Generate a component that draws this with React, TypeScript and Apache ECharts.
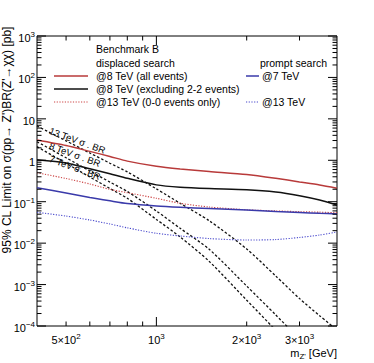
import React, { useEffect, useRef } from "react";
import * as echarts from "echarts";

const massGeV = [400, 500, 600, 700, 800, 1000, 1200, 1500, 2000, 2500, 3000, 3500, 4000];
const displaced8TeVAll = [3.09, 2.27, 1.64, 1.24, 0.955, 0.716, 0.617, 0.537, 0.454, 0.367, 0.3, 0.253, 0.211];
const displaced8TeVExcl22 = [1.03, 0.86, 0.627, 0.474, 0.367, 0.255, 0.224, 0.208, 0.195, 0.172, 0.14, 0.11, 0.083];
const displaced13TeV00 = [0.501, 0.363, 0.268, 0.198, 0.165, 0.121, 0.0916, 0.0746, 0.0638, 0.06, 0.0575, 0.056, 0.0543];
const prompt7TeV = [0.218, 0.162, 0.126, 0.105, 0.0906, 0.0788, 0.0733, 0.0686, 0.063, 0.058, 0.055, 0.0525, 0.0506];
const prompt13TeV = [0.0556, 0.045, 0.0362, 0.029, 0.0234, 0.0173, 0.0149, 0.0129, 0.0119, 0.0122, 0.0137, 0.0157, 0.0186];
const xsecBR13TeV = [6.73, 2.95, 1.5, 0.85, 0.525, 0.204, 0.0916, 0.0348, 0.00723, 0.00161, 0.00046, 0.000177, 0.00008];
const xsecBR8TeV = [2.81, 1.15, 0.552, 0.298, 0.177, 0.0597, 0.0228, 0.0071, 0.00092, 0.000185, 0.000048, null, null];
const xsecBR7TeV = [2.13, 0.845, 0.395, 0.208, 0.121, 0.0374, 0.0141, 0.00363, 0.00042, 0.000079, null, null, null];

const X_MIN = 400;
const X_MAX = 4000;
const Y_MIN_EXP = -4;
const Y_MAX_EXP = 3;

const xMinorTicks = [500, 600, 700, 800, 900, 2000, 3000];
const xMajorTicks = [1000];
const xLabelValues = [500, 1000, 2000, 3000];
const xLabelMantissas = ["5×", "", "2×", "3×"];
const xLabelExponents = ["2", "3", "3", "3"];
const yDecadeExponents = [-4, -3, -2, -1, 0, 1, 2, 3];
const yMinorMultipliers = [2, 3, 4, 5, 6, 7, 8, 9];

const FONT = '"Liberation Sans", Arial, Helvetica, sans-serif';
const RED = "#b83a3a";
const BLACK = "#111111";
const BLUE = "#3a3aaa";
const RED_DOT = "#cc4444";
const BLUE_DOT = "#4848cc";

function pairs(values: (number | null)[]) {
  const out: [number, number][] = [];
  values.forEach((v, i) => {
    if (v != null) out.push([massGeV[i], v]);
  });
  return out;
}

const supRich = {
  b: { fontSize: 11, fontFamily: FONT, color: "#000" },
  s: { fontSize: 8, fontFamily: FONT, color: "#000", padding: [0, 0, 7, 0] },
};

export default function App() {
  const ref = useRef<HTMLDivElement>(null);
  useEffect(() => {
    const chart = echarts.init(ref.current!, null, { renderer: "svg" });
    const yMin = Math.pow(10, Y_MIN_EXP);
    const yMax = Math.pow(10, Y_MAX_EXP);

    const xTickData: number[][] = [
      ...xMinorTicks.map((v) => [v, 1, 0]),
      ...xMajorTicks.map((v) => [v, 1, 1]),
    ];
    const yTickData: number[][] = [];
    yDecadeExponents.forEach((e) => {
      yTickData.push([X_MIN, Math.pow(10, e), 1]);
      if (e < Y_MAX_EXP) {
        yMinorMultipliers.forEach((k) => yTickData.push([X_MIN, k * Math.pow(10, e), 0]));
      }
    });
    const xLabelData = xLabelValues.map((v, i) => [v, 1, i]);
    const yLabelData = yDecadeExponents.map((e) => [X_MIN, Math.pow(10, e), e]);

    const lineSeries = (name: string, values: (number | null)[], color: string, width: number, type: any) => ({
      name,
      type: "line",
      data: pairs(values),
      showSymbol: false,
      smooth: 0.25,
      clip: true,
      lineStyle: { color, width, type },
      z: 3,
    });

    const option: any = {
      animation: false,
      backgroundColor: "#fff",
      grid: { left: 37, top: 36, width: 300, height: 290, show: true, borderColor: "#000", borderWidth: 1, backgroundColor: "transparent" },
      xAxis: {
        type: "log",
        logBase: 10,
        min: X_MIN,
        max: X_MAX,
        axisLine: { show: false },
        axisTick: { show: false },
        axisLabel: { show: false },
        splitLine: { show: false },
      },
      yAxis: {
        type: "log",
        logBase: 10,
        min: yMin,
        max: yMax,
        axisLine: { show: false },
        axisTick: { show: false },
        axisLabel: { show: false },
        splitLine: { show: false },
      },
      series: [
        lineSeries("13 TeV σ . BR", xsecBR13TeV, BLACK, 1.3, [2.5, 2]),
        lineSeries("8 TeV σ . BR", xsecBR8TeV, BLACK, 1.3, [2.5, 2]),
        lineSeries("7 TeV σ . BR", xsecBR7TeV, BLACK, 1.3, [2.5, 2]),
        lineSeries("@8 TeV (all events)", displaced8TeVAll, RED, 1.5, "solid"),
        lineSeries("@8 TeV (excluding 2-2 events)", displaced8TeVExcl22, BLACK, 1.5, "solid"),
        lineSeries("@13 TeV (0-0 events only)", displaced13TeV00, RED_DOT, 1.1, [1.2, 1.5]),
        lineSeries("@7 TeV", prompt7TeV, BLUE, 1.5, "solid"),
        lineSeries("@13 TeV", prompt13TeV, BLUE_DOT, 1.1, [1.2, 1.5]),
        {
          type: "custom",
          silent: true,
          clip: false,
          data: xTickData,
          z: 5,
          renderItem: (_p: any, api: any) => {
            const v = api.value(0);
            const len = api.value(2) ? 9 : 4.5;
            const b = api.coord([v, yMin]);
            const t = api.coord([v, yMax]);
            return {
              type: "group",
              children: [
                { type: "line", shape: { x1: b[0], y1: b[1], x2: b[0], y2: b[1] - len }, style: { stroke: "#000", lineWidth: 1 } },
                { type: "line", shape: { x1: t[0], y1: t[1], x2: t[0], y2: t[1] + len }, style: { stroke: "#000", lineWidth: 1 } },
              ],
            };
          },
        },
        {
          type: "custom",
          silent: true,
          clip: false,
          data: yTickData,
          z: 5,
          renderItem: (_p: any, api: any) => {
            const v = api.value(1);
            const len = api.value(2) ? 9 : 4.5;
            const l = api.coord([X_MIN, v]);
            const r = api.coord([X_MAX, v]);
            return {
              type: "group",
              children: [
                { type: "line", shape: { x1: l[0], y1: l[1], x2: l[0] + len, y2: l[1] }, style: { stroke: "#000", lineWidth: 1 } },
                { type: "line", shape: { x1: r[0], y1: r[1], x2: r[0] - len, y2: r[1] }, style: { stroke: "#000", lineWidth: 1 } },
              ],
            };
          },
        },
        {
          type: "custom",
          silent: true,
          clip: false,
          data: xLabelData,
          z: 5,
          renderItem: (_p: any, api: any) => {
            const v = api.value(0);
            const i = api.value(2);
            const p = api.coord([v, yMin]);
            return {
              type: "text",
              x: p[0],
              y: p[1] + 14,
              style: {
                text: `{b|${xLabelMantissas[i]}10}{s|${xLabelExponents[i]}}`,
                rich: supRich,
                align: "center",
                verticalAlign: "middle",
                fill: "#000",
              },
            };
          },
        },
        {
          type: "custom",
          silent: true,
          clip: false,
          data: yLabelData,
          z: 5,
          renderItem: (_p: any, api: any) => {
            const v = api.value(1);
            const e = api.value(2);
            const p = api.coord([X_MIN, v]);
            const txt = e === 0 ? "{b|1}" : e === 1 ? "{b|10}" : `{b|10}{s|${e < 0 ? "−" + -e : e}}`;
            return {
              type: "text",
              x: p[0] - 2,
              y: p[1] + 2,
              style: { text: txt, rich: supRich, align: "right", verticalAlign: "middle", fill: "#000" },
            };
          },
        },
      ],
      graphic: [
        { type: "text", x: 96, y: 49, style: { text: "Benchmark B", fontSize: 10.5, fontFamily: FONT, fill: "#000", verticalAlign: "middle" } },
        { type: "text", x: 96, y: 63, style: { text: "displaced search", fontSize: 10.5, fontFamily: FONT, fill: "#000", verticalAlign: "middle" } },
        { type: "line", shape: { x1: 54, y1: 76, x2: 88, y2: 76 }, style: { stroke: RED, lineWidth: 1.5 } },
        { type: "text", x: 96, y: 76, style: { text: "@8 TeV (all events)", fontSize: 10.5, fontFamily: FONT, fill: "#000", verticalAlign: "middle" } },
        { type: "line", shape: { x1: 54, y1: 89, x2: 88, y2: 89 }, style: { stroke: BLACK, lineWidth: 1.5 } },
        { type: "text", x: 96, y: 89, style: { text: "@8 TeV (excluding 2-2 events)", fontSize: 10.5, fontFamily: FONT, fill: "#000", verticalAlign: "middle" } },
        { type: "line", shape: { x1: 54, y1: 102, x2: 88, y2: 102 }, style: { stroke: RED_DOT, lineWidth: 1.1, lineDash: [1.2, 1.5] } },
        { type: "text", x: 96, y: 102, style: { text: "@13 TeV (0-0 events only)", fontSize: 10.5, fontFamily: FONT, fill: "#000", verticalAlign: "middle" } },
        { type: "text", x: 327, y: 63, style: { text: "prompt search", fontSize: 10.5, fontFamily: FONT, fill: "#000", align: "right", verticalAlign: "middle" } },
        { type: "line", shape: { x1: 246, y1: 76, x2: 259, y2: 76 }, style: { stroke: BLUE, lineWidth: 1.5 } },
        { type: "text", x: 262, y: 76, style: { text: "@7 TeV", fontSize: 10.5, fontFamily: FONT, fill: "#000", verticalAlign: "middle" } },
        { type: "line", shape: { x1: 246, y1: 102, x2: 259, y2: 102 }, style: { stroke: BLUE_DOT, lineWidth: 1.1, lineDash: [1.2, 1.5] } },
        { type: "text", x: 262, y: 102, style: { text: "@13 TeV", fontSize: 10.5, fontFamily: FONT, fill: "#000", verticalAlign: "middle" } },
        { type: "text", x: 48, y: 135, rotation: -0.35, style: { text: "13 TeV σ . BR", fontSize: 9.5, fontFamily: FONT, fill: "#000", verticalAlign: "bottom" } },
        { type: "text", x: 48, y: 150, rotation: -0.35, style: { text: "8 TeV σ . BR", fontSize: 9.5, fontFamily: FONT, fill: "#000", verticalAlign: "bottom" } },
        { type: "text", x: 48, y: 163, rotation: -0.35, style: { text: "7 TeV σ . BR", fontSize: 9.5, fontFamily: FONT, fill: "#000", verticalAlign: "bottom" } },
        {
          type: "text",
          x: 7,
          y: 140,
          rotation: Math.PI / 2,
          style: { text: "95% CL Limit on σ(pp→ Z')BR(Z'→χχ) [pb]", fontSize: 12, fontFamily: FONT, fill: "#000", align: "center", verticalAlign: "middle" },
        },
        {
          type: "text",
          x: 337,
          y: 353,
          style: {
            text: "{m|m}{z|Z'}{m| [GeV]}",
            align: "right",
            verticalAlign: "middle",
            rich: {
              m: { fontSize: 11, fontFamily: FONT, color: "#000" },
              z: { fontSize: 8, fontFamily: FONT, color: "#000", padding: [6, 0, 0, 0] },
            },
          },
        },
      ],
    };
    chart.setOption(option);
    return () => chart.dispose();
  }, []);
  return <div ref={ref} style={{ position: "fixed", left: 0, top: 0, width: 374, height: 363, background: "#fff" }} />;
}
